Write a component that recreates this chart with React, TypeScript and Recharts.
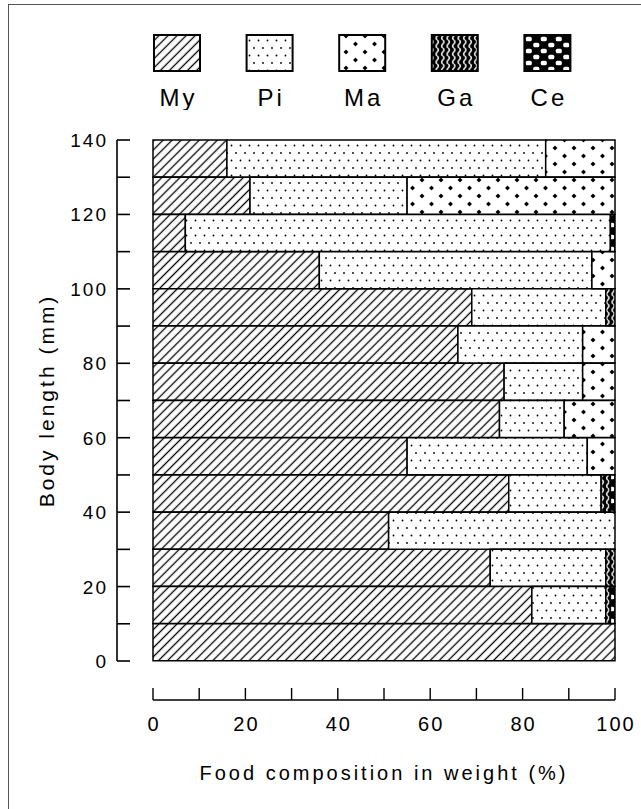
import React from 'react';
import { BarChart, Bar, XAxis, YAxis, Legend, Label } from 'recharts';

// body length classes (mm), top of the chart first
const lengthClasses = [
  '130-140', '120-130', '110-120', '100-110', '90-100', '80-90', '70-80',
  '60-70', '50-60', '40-50', '30-40', '20-30', '10-20', '0-10'
];

// food composition in weight (%)
const myValues = [16, 21, 7, 36, 69, 66, 76, 75, 55, 77, 51, 73, 82, 100];
const piValues = [69, 34, 92, 59, 29, 27, 17, 14, 39, 20, 49, 25, 16, 0];
const maValues = [15, 45, 0, 5, 0, 7, 7, 11, 6, 0, 0, 0, 0, 0];
const gaValues = [0, 0, 0, 0, 2, 0, 0, 0, 0, 2, 0, 2, 1, 0];
const ceValues = [0, 0, 1, 0, 0, 0, 0, 0, 0, 1, 0, 0, 1, 0];

const seriesNames = ['My', 'Pi', 'Ma', 'Ga', 'Ce'];
const xTicks = [0, 10, 20, 30, 40, 50, 60, 70, 80, 90, 100];

const data = lengthClasses.map((c, i) => ({
  length: c,
  My: myValues[i],
  Pi: piValues[i],
  Ma: maValues[i],
  Ga: gaValues[i],
  Ce: ceValues[i]
}));

const fills: Record<string, string> = {
  My: 'url(#pat-my)',
  Pi: 'url(#pat-pi)',
  Ma: 'url(#pat-ma)',
  Ga: 'url(#pat-ga)',
  Ce: 'url(#pat-ce)'
};

const FONT = '"Liberation Sans", Arial, sans-serif';

const star = (cx: number, cy: number) =>
  `M${cx},${cy - 2.6} L${cx + 1},${cy - 1} L${cx + 2.6},${cy} L${cx + 1},${cy + 1} ` +
  `L${cx},${cy + 2.6} L${cx - 1},${cy + 1} L${cx - 2.6},${cy} L${cx - 1},${cy - 1} Z`;

const Patterns = () => (
  <svg width={0} height={0} style={{ position: 'absolute' }}>
    <defs>
      <pattern id="pat-my" patternUnits="userSpaceOnUse" width={6.4} height={6.4} patternTransform="rotate(45)">
        <rect width={6.4} height={6.4} fill="#fff" />
        <line x1={3.2} y1={0} x2={3.2} y2={6.4} stroke="#000" strokeWidth={1.3} />
      </pattern>
      <pattern id="pat-pi" patternUnits="userSpaceOnUse" width={9} height={15}>
        <rect width={9} height={15} fill="#fff" />
        <circle cx={2} cy={3} r={0.9} fill="#000" />
        <circle cx={6.5} cy={10.5} r={0.9} fill="#000" />
      </pattern>
      <pattern id="pat-ma" patternUnits="userSpaceOnUse" width={19} height={16}>
        <rect width={19} height={16} fill="#fff" />
        <path d={star(4, 4)} fill="#000" />
        <circle cx={4} cy={4} r={1.7} fill="#000" />
        <path d={star(13.5, 12)} fill="#000" />
        <circle cx={13.5} cy={12} r={1.7} fill="#000" />
      </pattern>
      <pattern id="pat-ga" patternUnits="userSpaceOnUse" width={5.5} height={8}>
        <rect width={5.5} height={8} fill="#000" />
        <path d="M2.75,0 Q5,2 2.75,4 Q0.5,6 2.75,8" fill="none" stroke="#fff" strokeWidth={1.5} />
      </pattern>
      <pattern id="pat-ce" patternUnits="userSpaceOnUse" width={15} height={12}>
        <rect width={15} height={12} fill="#000" />
        <rect x={0.8} y={0.7} width={6} height={4.6} rx={1.6} fill="#fff" />
        <rect x={8.3} y={6.7} width={6} height={4.6} rx={1.6} fill="#fff" />
      </pattern>
    </defs>
  </svg>
);

const LegendContent = () => (
  <svg width={641} height={110} style={{ display: 'block' }}>
    {seriesNames.map((name, i) => {
      const cx = 177 + i * 92.6;
      return (
        <g key={name}>
          <rect x={cx - 23} y={35} width={46} height={36} fill={fills[name]} stroke="#000" strokeWidth={2} />
          <text x={cx + 1.5} y={106} textAnchor="middle" fontFamily={FONT} fontSize={24} letterSpacing={3} fill="#000">
            {name}
          </text>
        </g>
      );
    })}
  </svg>
);

// ticks sit on the class boundaries, labelled every 20 mm
const YTick = (props: any) => {
  const { x, y, payload, index } = props;
  const half = payload.offset ?? 18.6;
  const [lower, upper] = String(payload.value).split('-');
  const mark = (yy: number, label: string) => (
    <g>
      <line x1={x} x2={x + 13} y1={yy} y2={yy} stroke="#000" strokeWidth={1.6} />
      {Number(label) % 20 === 0 && (
        <text x={x - 9} y={yy + 7} textAnchor="end" fontFamily={FONT} fontSize={19} letterSpacing={2} fill="#000">
          {label}
        </text>
      )}
    </g>
  );
  return (
    <g>
      {mark(y - half, upper)}
      {index === lengthClasses.length - 1 && mark(y + half, lower)}
    </g>
  );
};

const XTick = (props: any) => {
  const { x, y, payload } = props;
  return (
    <g>
      <line x1={x} x2={x} y1={y} y2={y - 12} stroke="#000" strokeWidth={1.4} />
      {payload.value % 20 === 0 && (
        <text x={x + 1} y={y + 31} textAnchor="middle" fontFamily={FONT} fontSize={20} letterSpacing={2} fill="#000">
          {payload.value}
        </text>
      )}
    </g>
  );
};

export default function App() {
  return (
    <div style={{ position: 'absolute', left: 0, top: 0, width: 641, height: 809, background: '#fff' }}>
      <Patterns />
      <div
        style={{
          position: 'absolute',
          left: 8,
          top: 4,
          right: 0,
          bottom: 0,
          borderLeft: '1.5px solid #555',
          borderTop: '1.5px solid #555'
        }}
      />
      <BarChart
        width={641}
        height={809}
        data={data}
        layout="vertical"
        barCategoryGap={0}
        margin={{ top: 30, right: 26, bottom: 9, left: 27 }}
      >
        <Legend
          verticalAlign="top"
          align="left"
          content={() => <LegendContent />}
          wrapperStyle={{ top: 0, left: 0, width: 641, height: 110 }}
        />
        {/* empty axes that only hold the gap between the frame of bars and the drawn axes */}
        <YAxis yAxisId="a-gap" type="category" dataKey="length" width={36} tick={false} axisLine={false} tickLine={false} />
        <YAxis
          yAxisId="b-len"
          type="category"
          dataKey="length"
          width={90}
          tickSize={0}
          tickMargin={0}
          tickLine={false}
          axisLine={{ stroke: '#000', strokeWidth: 1.6 }}
          tick={<YTick />}
          interval={0}
        >
          <Label
            value="Body length (mm)"
            angle={-90}
            position="insideLeft"
            offset={20}
            style={{ textAnchor: 'middle', fontFamily: FONT, fontSize: 21, letterSpacing: 3, fill: '#000' }}
          />
        </YAxis>
        <XAxis xAxisId="a-gap" type="number" domain={[0, 100]} height={39} tick={false} axisLine={false} tickLine={false} />
        <XAxis
          xAxisId="b-pct"
          type="number"
          domain={[0, 100]}
          ticks={xTicks}
          height={100}
          tickSize={0}
          tickMargin={0}
          tickLine={false}
          axisLine={{ stroke: '#000', strokeWidth: 1.6 }}
          tick={<XTick />}
          interval={0}
        >
          <Label
            value="Food composition in weight (%)"
            position="insideBottom"
            offset={20}
            style={{ textAnchor: 'middle', fontFamily: FONT, fontSize: 20, letterSpacing: 3, fill: '#000' }}
          />
        </XAxis>
        {seriesNames.map((name) => (
          <Bar
            key={name}
            dataKey={name}
            stackId="food"
            xAxisId="b-pct"
            yAxisId="b-len"
            fill={fills[name]}
            stroke="#000"
            strokeWidth={1.5}
            isAnimationActive={false}
          />
        ))}
      </BarChart>
    </div>
  );
}
